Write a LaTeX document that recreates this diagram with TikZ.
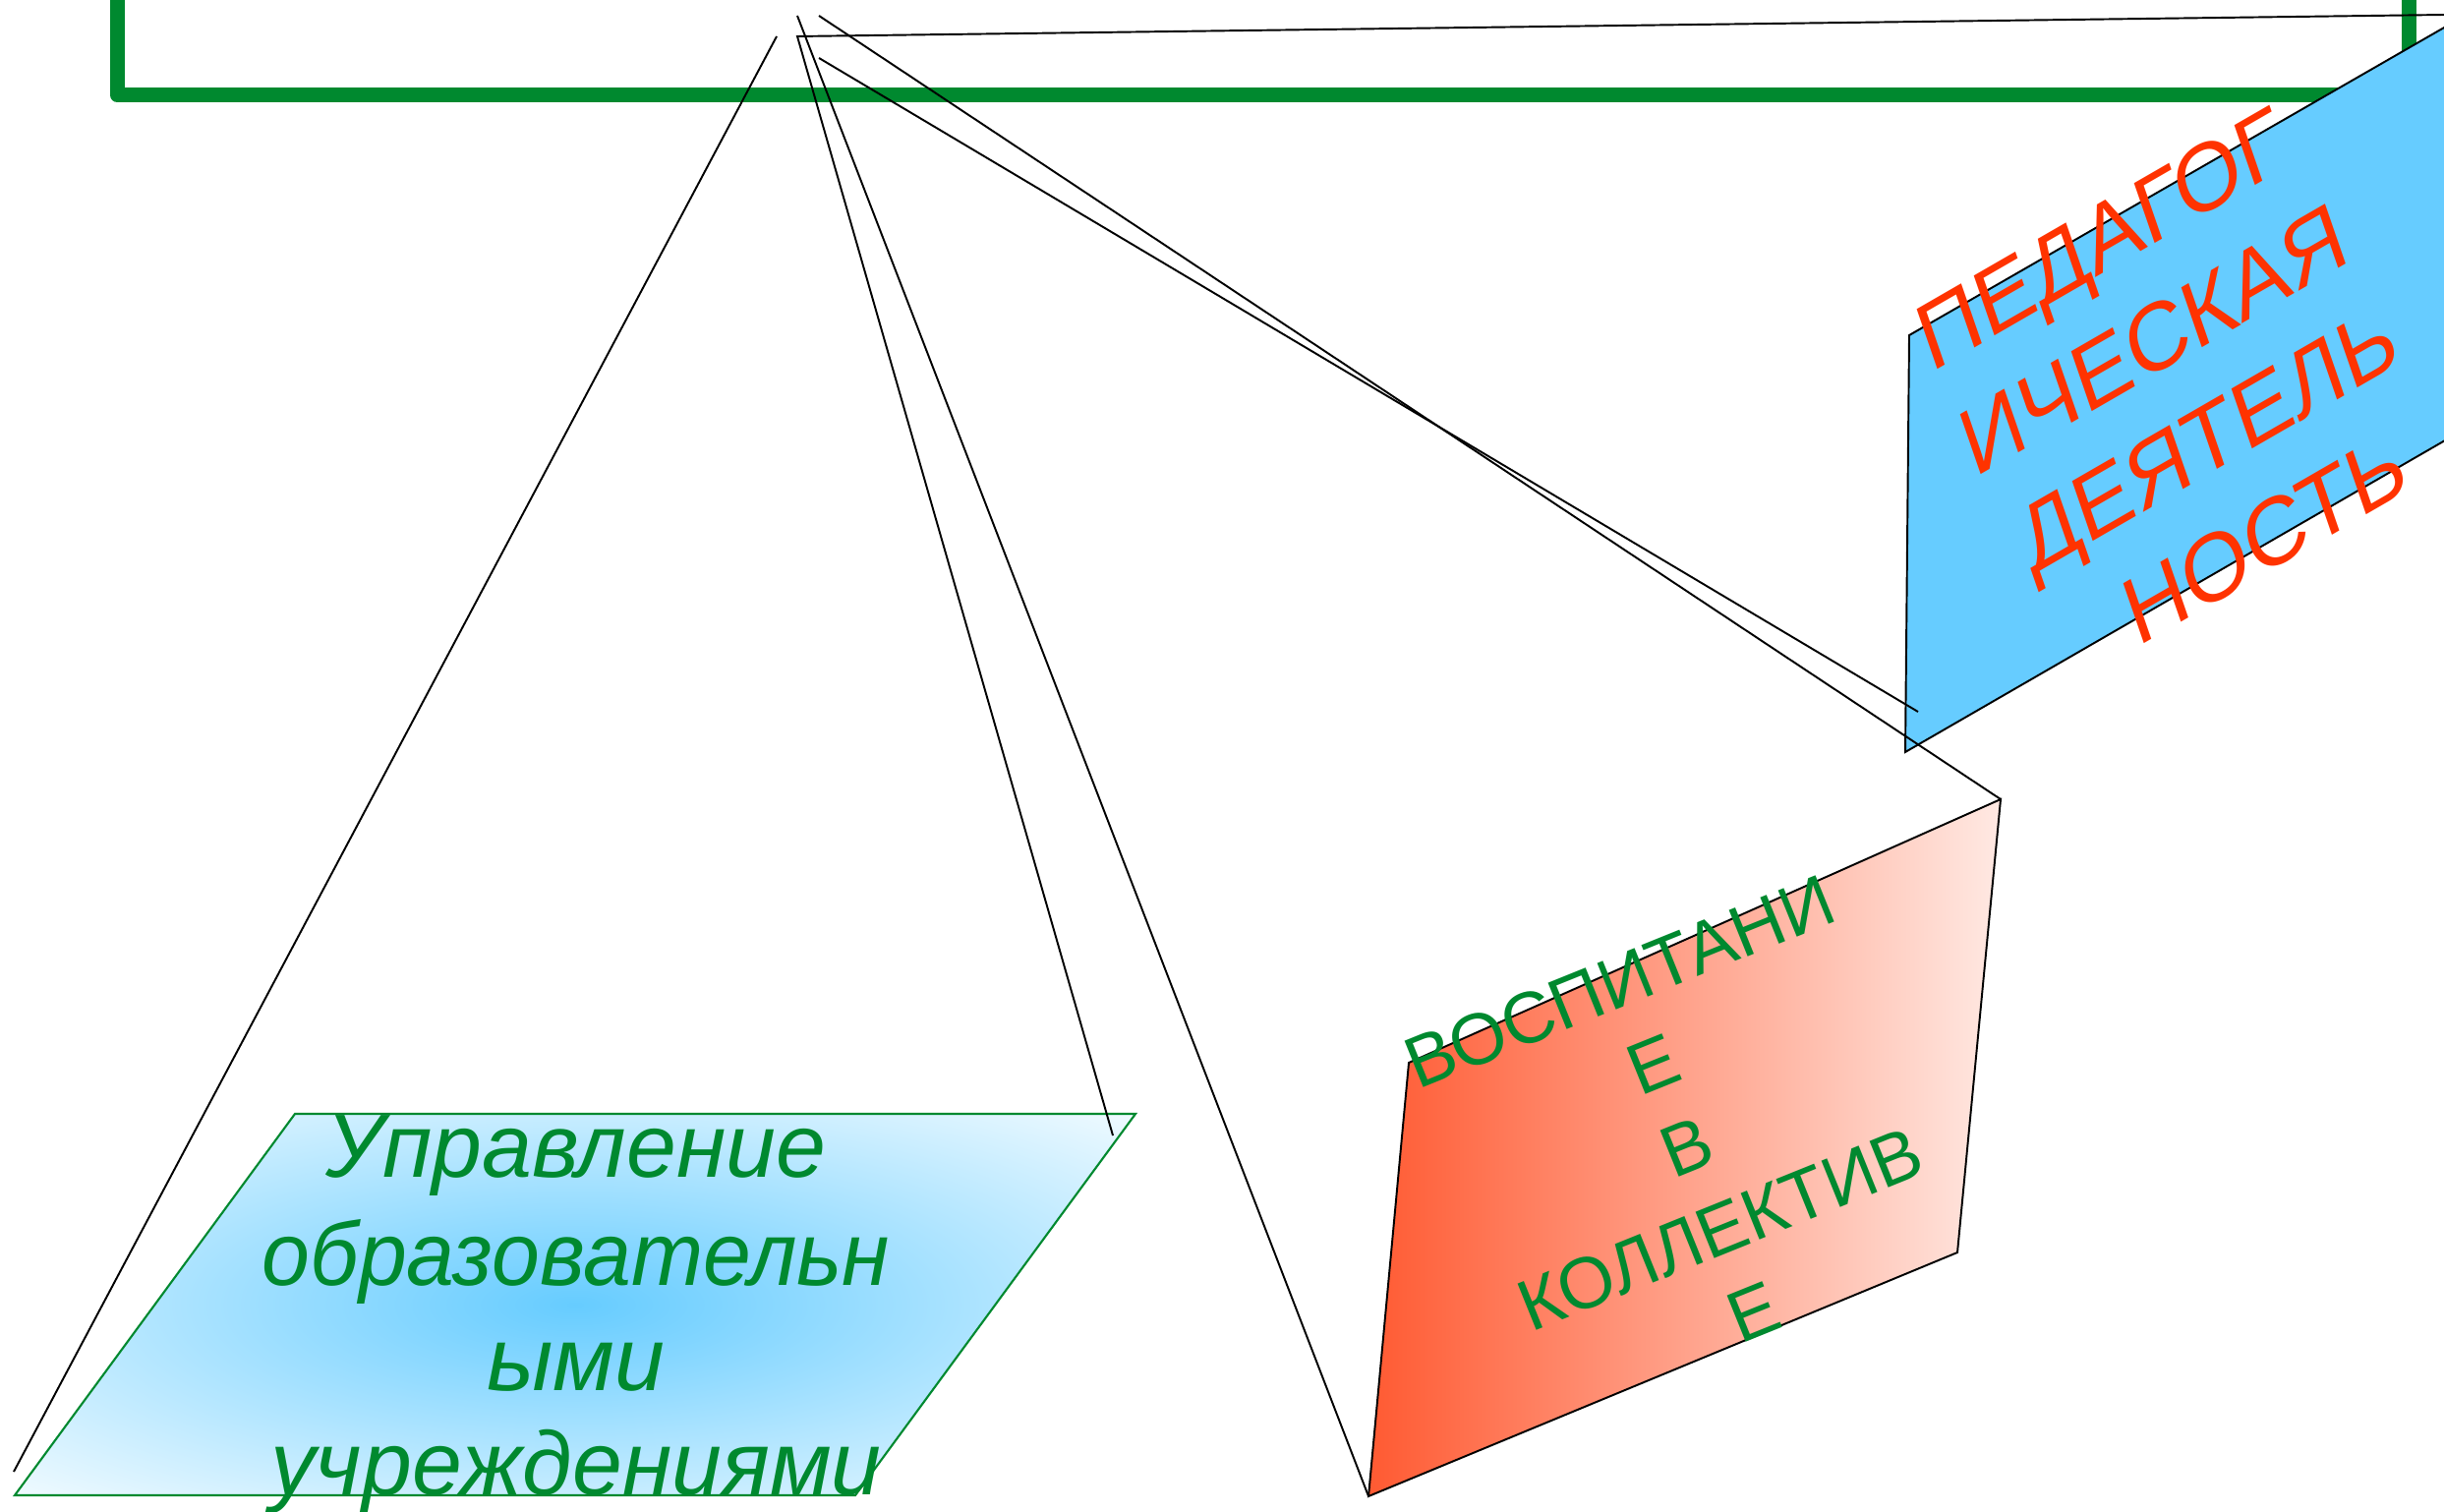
\documentclass[tikz,border=0pt]{standalone}
\usepackage{fontspec}
\setmainfont{Liberation Sans}
\definecolor{frameg}{RGB}{0,137,47}
\definecolor{skyb}{RGB}{102,204,255}
\definecolor{paleb}{RGB}{242,251,255}
\definecolor{txtred}{RGB}{255,51,0}
\definecolor{redA}{RGB}{255,90,50}
\definecolor{redB}{RGB}{255,233,227}
\pgfdeclareradialshading{bluerad}{\pgfpoint{0bp}{0bp}}{color(0bp)=(skyb); color(36bp)=(paleb); color(50bp)=(paleb)}
\begin{document}
\begin{tikzpicture}[x=0.01cm,y=-0.01cm,
  greenframe/.style={draw=frameg,line width=0.15cm,line join=round},
  thinline/.style={draw=black,line width=0.55pt},
  lefttext/.style={anchor=base,text=frameg,font=\itshape\fontsize{26}{31}\selectfont,inner sep=0pt},
  pedtext/.style={anchor=base,text=txtred,font=\fontsize{26.6}{32}\selectfont,inner sep=0pt,cm={0.866,0.5,-0.326,0.946,(0,0)}},
  vostext/.style={anchor=base,text=frameg,font=\fontsize{21}{25}\selectfont,inner sep=0pt,rotate=22}]
\useasboundingbox (0,0) rectangle (2486,1537);
\clip (0,0) rectangle (2486,1537);
% green frame
\draw[greenframe] (119.5,-100) rectangle (2450,97);
% blue parallelogram (right)
\filldraw[fill=skyb,thinline] (1942,341) -- (2700,-95) -- (2700,325) -- (1938,765) -- cycle;
% red parallelogram
\shadedraw[left color=redA,right color=redB,thinline] (1433,1081) -- (2035,813) -- (1991,1274) -- (1392,1522) -- cycle;
% left parallelogram
\path[shading=bluerad,draw=frameg,line width=0.6pt] (300,1133) -- (1155,1133) -- (870,1521) -- (15,1521) -- cycle;
% named end points
\coordinate (a1) at (790,37);
\coordinate (a2) at (14,1497);
\coordinate (b0) at (2486,15);
\coordinate (b1) at (811,37);
\coordinate (b2) at (1132,1155);
\coordinate (c1) at (811,16);
\coordinate (c2) at (1392,1522);
\coordinate (d1) at (833,16);
\coordinate (d2) at (2035,813);
\coordinate (e1) at (833,59);
\coordinate (e2) at (1951,724);
\draw[thinline] (a1) -- (a2);
\draw[thinline] (b0) -- (b1) -- (b2);
\draw[thinline] (c1) -- (c2);
\draw[thinline] (d1) -- (d2);
\draw[thinline] (e1) -- (e2);
% left text
\node[lefttext] (t1) at (586,1197) {Управление};
\node[lefttext,xscale=0.96] (t2) at (586,1307) {образовательн};
\node[lefttext] (t3) at (586,1414) {ыми};
\node[lefttext] (t4) at (586,1520) {учреждениями};
% red text
\node[pedtext] (p1) at (2148,273) {ПЕДАГОГ};
\node[pedtext] (p2) at (2201,376) {ИЧЕСКАЯ};
\node[pedtext] (p3) at (2256,477) {ДЕЯТЕЛЬ};
\node[pedtext] (p4) at (2314,578) {НОСТЬ};
% green rotated text
\node[vostext] (v1) at (1657,1022) {ВОСПИТАНИ};
\node[vostext] (v2) at (1691,1106) {Е};
\node[vostext] (v3) at (1725,1190) {В};
\node[vostext] (v4) at (1759,1274) {КОЛЛЕКТИВ};
\node[vostext] (v5) at (1793,1358) {Е};
\end{tikzpicture}
\end{document}
